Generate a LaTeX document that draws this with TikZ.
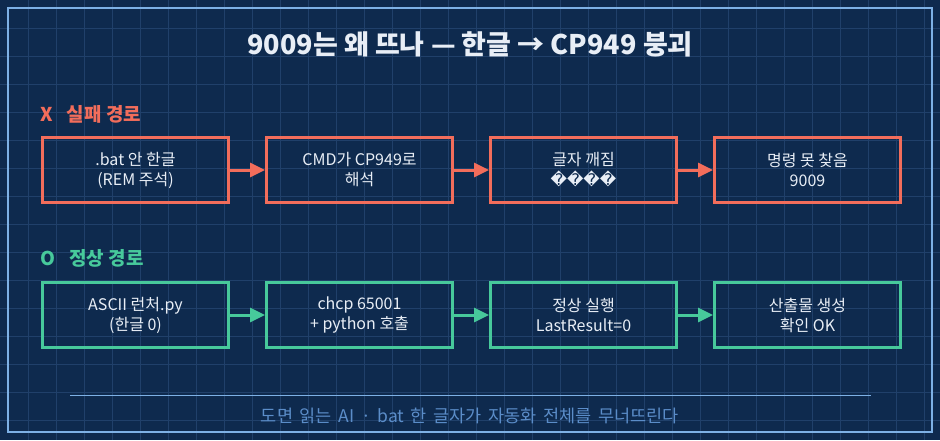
\documentclass[tikz,border=0pt]{standalone}
\usepackage{fontspec}
\setmainfont{Noto Sans CJK KR}
\newfontfamily\symfont{DejaVu Sans}
\usetikzlibrary{arrows.meta}
\definecolor{bgc}{HTML}{0E2A4E}
\definecolor{gridc}{HTML}{20406A}
\definecolor{framec}{HTML}{7DB1E6}
\definecolor{failc}{HTML}{F26D5B}
\definecolor{okc}{HTML}{47C99B}
\definecolor{txtc}{HTML}{E8EEF6}
\definecolor{footc}{HTML}{5B8DC9}
\tikzset{
  stepbox/.style={draw, line width=3pt, minimum width=186pt, minimum height=65pt,
    inner sep=0pt, align=center, text=txtc, font=\fontsize{16}{20}\selectfont},
  failbox/.style={stepbox, draw=failc},
  okbox/.style={stepbox, draw=okc},
  flow/.style={line width=3pt, -{Triangle[length=15pt,width=14pt]}},
  seclabel/.style={anchor=west, font=\bfseries\fontsize{19}{22}\selectfont, inner sep=0pt}
}
\begin{document}
\begin{tikzpicture}[x=1pt,y=-1pt]
\useasboundingbox (0,0) rectangle (940,440);
\fill[bgc] (0,0) rectangle (940,440);
\foreach \i in {1,...,33} \draw[gridc, line width=1pt] (\i*28,0) -- (\i*28,440);
\foreach \j in {1,...,15} \draw[gridc, line width=1pt] (0,\j*28) -- (940,\j*28);
\draw[framec, line width=2pt] (8,8) rectangle (932,432);

\node[font=\bfseries\fontsize{27}{30}\selectfont, text=txtc] (title) at (470,44) {9009는 왜 뜨나 — 한글 → CP949 붕괴};

\node[seclabel, text=failc] (failhead) at (40,114) {X\hspace{0.75em}실패 경로};
\node[seclabel, text=okc] (okhead) at (40,258) {O\hspace{0.75em}정상 경로};

\node[failbox] (f1) at (135.5,170) {.bat 안 한글\\(REM 주석)};
\node[failbox] (f2) at (359.5,170) {CMD가 CP949로\\해석};
\node[failbox] (f3) at (583.5,170) {글자 깨짐\\{\symfont ����}};
\node[failbox] (f4) at (807.5,170) {명령 못 찾음\\9009};

\node[okbox] (o1) at (135.5,315) {ASCII 런처.py\\(한글 0)};
\node[okbox] (o2) at (359.5,315) {chcp 65001\\+ python 호출};
\node[okbox] (o3) at (583.5,315) {정상 실행\\LastResult=0};
\node[okbox] (o4) at (807.5,315) {산출물 생성\\확인 OK};

\draw[flow, failc] (f1) -- (f2);
\draw[flow, failc] (f2) -- (f3);
\draw[flow, failc] (f3) -- (f4);
\draw[flow, okc] (o1) -- (o2);
\draw[flow, okc] (o2) -- (o3);
\draw[flow, okc] (o3) -- (o4);

\coordinate (sepl) at (70,395);
\coordinate (sepr) at (871,395);
\draw[framec, line width=1pt] (sepl) -- (sepr);
\node[text=footc, font=\fontsize{17.5}{20}\selectfont] (foot) at (470,416) {\spaceskip=0.38em plus 0.1em 도면 읽는 AI · bat 한 글자가 자동화 전체를 무너뜨린다};
\end{tikzpicture}
\end{document}
